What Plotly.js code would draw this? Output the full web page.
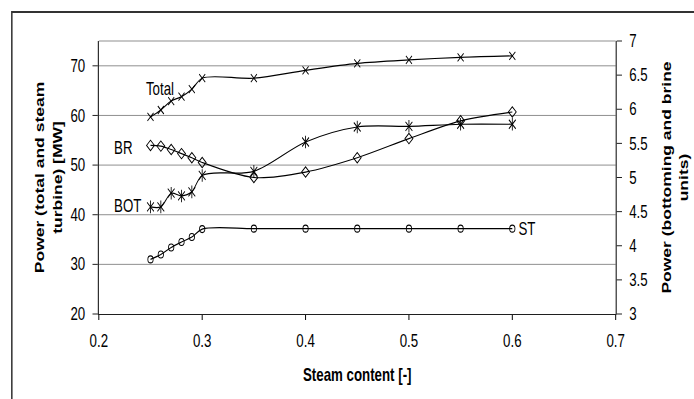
<!DOCTYPE html>
<html><head><meta charset="utf-8">
<script src="https://cdn.plot.ly/plotly-3.0.1.min.js"></script>
<style>
html,body{margin:0;padding:0;background:#fff;overflow:hidden}
#wrap{width:694px;height:399px;overflow:hidden;position:relative}
#chart{width:913px;height:399px;transform:scaleX(0.7601);transform-origin:0 0;position:absolute;left:0;top:0}
</style>
</head><body><div id="wrap"><div id="chart"></div></div><script>
const steam = [0.25, 0.26, 0.27, 0.28, 0.29, 0.30, 0.35, 0.40, 0.45, 0.50, 0.55, 0.60];
const total = [59.7, 61.1, 62.9, 63.8, 65.3, 67.5, 67.5, 69.1, 70.5, 71.2, 71.7, 72.0];
const st    = [31.0, 32.0, 33.4, 34.5, 35.5, 37.1, 37.2, 37.2, 37.2, 37.2, 37.2, 37.2];
const br    = [5.47, 5.46, 5.41, 5.35, 5.29, 5.22, 5.00, 5.08, 5.29, 5.57, 5.83, 5.96];
const bot   = [4.57, 4.57, 4.77, 4.73, 4.79, 5.03, 5.09, 5.52, 5.74, 5.75, 5.78, 5.78];
const seriesLabels = ["Total", "BR", "BOT", "ST"];

const FONT = "Liberation Sans, Arial, sans-serif";
const FS = 17.5;
const lineStyle = {color: "#000", width: 1.2, shape: "spline", smoothing: 0.9};
const mk = (sym, size) => ({symbol: sym, size: size, color: "#000", line: {color: "#000", width: 1.1}});

const traces = [
  {x: steam, y: total, name: "Total", mode: "lines+markers", line: lineStyle, marker: mk("x-thin-open", 8)},
  {x: steam, y: st, name: "ST", mode: "lines+markers", line: lineStyle, marker: mk("circle-open", 7)},
  {x: steam, y: br, name: "BR", yaxis: "y2", mode: "lines+markers", line: lineStyle, marker: mk("diamond-open", 8)},
  {x: steam, y: bot, name: "BOT", yaxis: "y2", mode: "lines+markers", line: lineStyle, marker: mk("x-thin-open", 9)},
  {x: steam, y: bot, name: "BOT", yaxis: "y2", mode: "markers", hoverinfo: "skip", marker: mk("line-ns-open", 9)}
];

const tickFont = {family: FONT, size: FS, color: "#000"};
const annFont = {family: FONT, size: FS, color: "#000"};
const titleFont = {family: FONT, size: FS, weight: "bold", color: "#000"};

const layout = {
  width: 913, height: 399,
  margin: {l: 130.2, r: 102.6, t: 41, b: 85},
  paper_bgcolor: "#fff", plot_bgcolor: "#fff",
  showlegend: false,
  xaxis: {
    range: [0.2, 0.7], dtick: 0.1, tick0: 0.2, tickformat: ".1f",
    showgrid: false, zeroline: false,
    showline: true, linecolor: "#000", linewidth: 1,
    ticks: "outside", ticklen: 5, tickcolor: "#000", tickwidth: 1.3,
    tickfont: tickFont, ticklabelstandoff: 6,
    title: {text: "Steam content [-]", font: titleFont, standoff: 18}
  },
  yaxis: {
    range: [20, 75], dtick: 10, tick0: 20,
    showgrid: true, gridcolor: "#808080", gridwidth: 1,
    zeroline: false, showline: true, linecolor: "#000", linewidth: 1.3,
    ticks: "outside", ticklen: 7, tickcolor: "#000",
    tickfont: tickFont, ticklabelstandoff: 6,
    title: {text: "Power (total and steam<br>turbine) [MW]", font: titleFont, standoff: 6}
  },
  yaxis2: {
    overlaying: "y", side: "right",
    range: [3, 7], dtick: 0.5, tick0: 3,
    showgrid: false, zeroline: false,
    showline: true, linecolor: "#000", linewidth: 1.3,
    ticks: "outside", ticklen: 7, tickcolor: "#000",
    tickfont: tickFont, ticklabelstandoff: 6,
    title: {text: "Power (bottoming and brine<br>units)", font: titleFont, standoff: 19}
  },
  shapes: [
    {type: "line", xref: "paper", yref: "paper", x0: 0, x1: 1, y0: 1, y1: 1, line: {color: "#808080", width: 1}},
    {type: "rect", xref: "paper", yref: "paper", x0: -0.1683, x1: 1.2, y0: -0.35, y1: 1.1062, line: {color: "#333", width: 2}, layer: "below"}
  ],
  annotations: [
    {text: seriesLabels[0], x: 0.259, y: 65.4, xref: "x", yref: "y", showarrow: false, font: annFont, xanchor: "center", yanchor: "middle"},
    {text: seriesLabels[1], x: 0.2232, y: 53.4, xref: "x", yref: "y", showarrow: false, font: annFont, xanchor: "center", yanchor: "middle"},
    {text: seriesLabels[2], x: 0.2276, y: 41.7, xref: "x", yref: "y", showarrow: false, font: annFont, xanchor: "center", yanchor: "middle"},
    {text: seriesLabels[3], x: 0.6043, y: 37.1, xref: "x", yref: "y", showarrow: false, font: annFont, xanchor: "left", yanchor: "middle"}
  ]
};

Plotly.newPlot("chart", traces, layout, {staticPlot: true, displayModeBar: false});
</script></body></html>
